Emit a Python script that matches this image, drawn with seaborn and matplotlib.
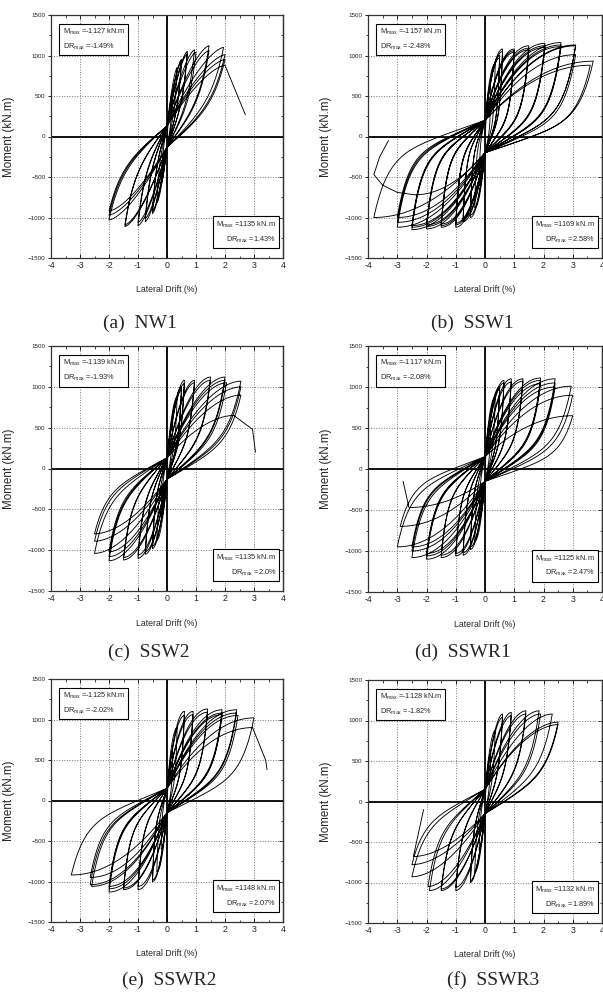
import numpy as np
import pandas as pd
import matplotlib
matplotlib.use("Agg")
import matplotlib.pyplot as plt
from matplotlib import font_manager as fm
from matplotlib.ticker import MultipleLocator
import seaborn as sns

# ---------------- data (peak drift % / peak moment kN.m) -------------
nw1_drift = [0.2, -0.2, 0.35, -0.35, 0.5, -0.5, 0.5, -0.5, 0.7, -0.75, 0.7, -0.75,
             0.95, -1.0, 1.0, -1.0, 1.45, -1.45, 1.45, -1.45, 1.95, -2.0, 2.0, -2.0, 2.0, -2.0, 2.0]
nw1_moment = [560, -580, 850, -820, 950, -950, 930, -920, 1050, -1050, 1020, -1010,
              1070, -1100, 1040, -1060, 1120, -1110, 1060, -1090, 1100, -1030, 1010, -970, 950, -920, 880]
nw1_tail_drift = [2.7]
nw1_tail_moment = [270]

ssw1_drift = [0.2, -0.2, 0.35, -0.35, 0.5, -0.5, 0.5, -0.5, 0.6, -0.75, 0.6, -0.75,
              1.0, -1.0, 1.0, -1.0, 1.0, -1.0, 1.5, -1.5, 1.5, -1.5, 1.5, -1.5,
              2.05, -2.0, 2.05, -2.0, 2.05, -2.0, 2.6, -2.5, 2.6, -2.5, 2.6, -2.5,
              3.1, -3.0, 3.1, -3.0, 3.1, -3.0, 3.7, -3.8, 3.6, -2.4]
ssw1_moment = [600, -600, 900, -880, 1000, -1000, 970, -970, 1080, -1050, 1050, -1020,
               1080, -1120, 1060, -1090, 1040, -1070, 1120, -1120, 1090, -1100, 1070, -1080,
               1150, -1140, 1120, -1110, 1100, -1090, 1160, -1150, 1130, -1120, 1110, -1100,
               1130, -1120, 1120, -1060, 1010, -1000, 930, -1000, 880, -720]
ssw1_tail_drift = [-3.0, -3.5, -3.8, -3.6, -3.3]
ssw1_tail_moment = [-690, -600, -470, -250, -50]

ssw2_drift = [0.2, -0.2, 0.35, -0.35, 0.5, -0.5, 0.5, -0.5, 0.6, -0.75, 0.6, -0.75,
              0.95, -1.0, 0.95, -1.0, 1.5, -1.5, 1.5, -1.5, 2.0, -2.0, 2.0, -2.0, 2.05, -2.0,
              2.55, -2.5, 2.55, -2.5, 2.55, -2.5, 2.3]
ssw2_moment = [600, -600, 880, -880, 1000, -980, 960, -950, 1080, -1050, 1040, -1020,
               1080, -1100, 1050, -1060, 1120, -1120, 1080, -1090, 1120, -1130, 1080, -1080, 1050, -1020,
               1070, -1040, 1000, -890, 900, -800, 650]
ssw2_tail_drift = [2.95, 3.05]
ssw2_tail_moment = [480, 200]

sswr1_drift = [0.2, -0.2, 0.35, -0.35, 0.5, -0.5, 0.5, -0.5, 0.65, -0.75, 0.65, -0.75,
               0.9, -1.0, 0.9, -1.0, 1.3, -1.5, 1.3, -1.5, 1.9, -2.0, 1.9, -2.0, 1.9, -2.0,
               2.4, -2.5, 2.4, -2.5, 2.4, -2.5, 2.95, -3.0, 3.0, -2.9, 3.0, -2.6]
sswr1_moment = [600, -600, 880, -880, 1000, -980, 970, -950, 1080, -1050, 1050, -1020,
                1100, -1060, 1060, -1030, 1100, -1080, 1070, -1050, 1110, -1100, 1080, -1060, 1040, -1030,
                1100, -1080, 1050, -1000, 1000, -950, 1010, -950, 900, -700, 650, -470]
sswr1_tail_drift = [-2.8]
sswr1_tail_moment = [-150]

sswr2_drift = [0.2, -0.2, 0.35, -0.35, 0.6, -0.5, 0.6, -0.5, 0.9, -1.0, 0.9, -1.0,
               1.4, -1.5, 1.4, -1.5, 1.9, -2.0, 1.9, -2.0, 1.9, -2.0,
               2.4, -2.6, 2.4, -2.65, 2.45, -2.65, 3.0, -3.3, 2.95]
sswr2_moment = [600, -600, 900, -880, 1100, -1000, 1050, -980, 1100, -1100, 1060, -1060,
                1130, -1100, 1090, -1080, 1120, -1130, 1080, -1090, 1060, -1060,
                1120, -1060, 1080, -1040, 1050, -950, 1020, -920, 900]
sswr2_tail_drift = [3.4, 3.45]
sswr2_tail_moment = [500, 380]

sswr3_drift = [0.2, -0.2, 0.35, -0.35, 0.6, -0.5, 0.6, -0.5, 0.9, -1.0, 0.9, -1.0,
               1.4, -1.5, 1.4, -1.5, 1.85, -1.9, 1.9, -1.95, 2.3, -2.5, 2.5, -2.5, 2.5, -2.45]
sswr3_moment = [600, -600, 880, -880, 1080, -1000, 1040, -980, 1100, -1100, 1060, -1060,
                1120, -1100, 1080, -1080, 1120, -1100, 1080, -1050, 1080, -930, 980, -780, 950, -680]
sswr3_tail_drift = [-2.1]
sswr3_tail_moment = [-100]

specimens = ["NW1", "SSW1", "SSW2", "SSWR1", "SSWR2", "SSWR3"]
captions = ["(a)  NW1", "(b)  SSW1", "(c)  SSW2", "(d)  SSWR1", "(e)  SSWR2", "(f)  SSWR3"]
neg_mmax = [-1127, -1157, -1139, -1117, -1125, -1128]
neg_drmax = ["-1.49", "-2.48", "-1.93", "-2.08", "-2.02", "-1.82"]
pos_mmax = [1135, 1169, 1135, 1125, 1148, 1132]
pos_drmax = ["1.43", "2.58", "2.0", "2.47", "2.07", "1.89"]
pinch_moment = [130, 200, 130, 150, 150, 150]

peak_drifts = [nw1_drift, ssw1_drift, ssw2_drift, sswr1_drift, sswr2_drift, sswr3_drift]
peak_moments = [nw1_moment, ssw1_moment, ssw2_moment, sswr1_moment, sswr2_moment, sswr3_moment]
tail_drifts = [nw1_tail_drift, ssw1_tail_drift, ssw2_tail_drift, sswr1_tail_drift, sswr2_tail_drift, sswr3_tail_drift]
tail_moments = [nw1_tail_moment, ssw1_tail_moment, ssw2_tail_moment, sswr1_tail_moment, sswr2_tail_moment, sswr3_tail_moment]

# loop shape styles (unloading share, unloading decay, reloading exponent)
shape_style = [(0.45, 0.2, 1.5), (0.6, 0.12, 2.0), (0.5, 0.15, 1.8),
               (0.55, 0.13, 2.0), (0.55, 0.13, 2.0), (0.5, 0.15, 1.8)]


def branch(x0, y0, x1, y1, p, a, tau, k, n=90):
    sgn = 1.0 if x1 > x0 else -1.0
    X0, Y0, X1, Y1 = sgn * x0, sgn * y0, sgn * x1, sgn * y1
    xs, ys = [], []
    sx, sy = X0, Y0
    if X0 < 0:
        t = np.linspace(0, 1, n)
        g1 = a * (1 - np.exp(-t / tau)) / (1 - np.exp(-1 / tau)) + (1 - a) * t
        xs.append(X0 * (1 - t))
        ys.append(Y0 + (p - Y0) * g1)
        sx, sy = 0.0, p
    s = np.linspace(0, 1, n)
    g2 = 1 - (1 - s) ** k
    xs.append(sx + (X1 - sx) * s)
    ys.append(sy + (Y1 - sy) * g2)
    return sgn * np.concatenate(xs), sgn * np.concatenate(ys)


def build_path(dr, mo, tdr, tmo, p, style):
    a, tau, k = style
    X, Y = [], []
    prev = (0.0, 0.0)
    for d, m in zip(dr, mo):
        if prev == (0.0, 0.0):
            s = np.linspace(0, 1, 90)
            bx, by = d * s, m * (1 - (1 - s) ** k)
        else:
            bx, by = branch(prev[0], prev[1], d, m, p, a, tau, k)
        X.append(bx)
        Y.append(by)
        prev = (d, m)
    X.append(np.array(tdr, float))
    Y.append(np.array(tmo, float))
    return np.concatenate(X), np.concatenate(Y)


# ---------------- style ----------------
sns.set_theme(style="ticks")
installed = {f.name for f in fm.fontManager.ttflist}
if "Liberation Sans Narrow" in installed:
    main_font = "Liberation Sans Narrow"
    f_scale = 1.0
else:
    main_font = "Liberation Sans"
    f_scale = 0.86
fam = [main_font, "Liberation Sans", "DejaVu Sans"]
plt.rcParams["font.family"] = fam
plt.rcParams["mathtext.fontset"] = "custom"
plt.rcParams["mathtext.rm"] = main_font
plt.rcParams["mathtext.it"] = main_font
plt.rcParams["axes.linewidth"] = 0.9

W, H = 603, 1000
fig = plt.figure(figsize=(W / 100, H / 100), dpi=100)

axes_px = [(51, 15, 283, 258), (368, 15, 602, 258), (51, 346, 283, 591),
           (368, 346, 602, 592), (51, 679, 283, 922), (368, 680, 602, 923)]
caption_px = [(140, 323), (472, 323), (149, 652), (463, 652), (169, 980), (493, 980)]

for i in range(6):
    l, t, r, b = axes_px[i]
    ax = fig.add_axes([l / W, 1 - b / H, (r - l) / W, (b - t) / H])
    x, y = build_path(peak_drifts[i], peak_moments[i], tail_drifts[i], tail_moments[i],
                      pinch_moment[i], shape_style[i])
    df = pd.DataFrame({"drift": x, "moment": y})
    sns.lineplot(data=df, x="drift", y="moment", sort=False, estimator=None,
                 color="black", lw=0.65, ax=ax)
    ax.set_xlim(-4, 4)
    ax.set_ylim(-1500, 1500)
    ax.xaxis.set_major_locator(MultipleLocator(1))
    ax.xaxis.set_minor_locator(MultipleLocator(0.5))
    ax.yaxis.set_major_locator(MultipleLocator(500))
    ax.yaxis.set_minor_locator(MultipleLocator(250))
    ax.grid(True, which="major", linestyle=":", color="#777777", lw=0.7)
    ax.axhline(0, color="black", lw=1.3, zorder=1)
    ax.axvline(0, color="black", lw=1.3, zorder=1)
    for sp in ax.spines.values():
        sp.set_visible(True)
        sp.set_color("#333333")
    ax.tick_params(axis="x", which="both", direction="in", top=True, bottom=True,
                   labelsize=6.3, pad=2.5, colors="#222222")
    ax.tick_params(axis="x", which="major", length=3, width=0.7)
    ax.tick_params(axis="x", which="minor", length=1.8, width=0.6)
    ax.tick_params(axis="y", which="both", direction="out", left=True, right=False,
                   labelsize=5.2 * f_scale, pad=1.5, colors="#222222")
    ax.tick_params(axis="y", which="major", length=2.5, width=0.7)
    ax.tick_params(axis="y", which="minor", length=1.5, width=0.6)
    sec = ax.secondary_yaxis("right")
    sec.yaxis.set_major_locator(MultipleLocator(500))
    sec.yaxis.set_minor_locator(MultipleLocator(250))
    sec.tick_params(which="both", direction="in", labelright=False)
    sec.tick_params(which="major", length=3, width=0.7)
    sec.tick_params(which="minor", length=1.8, width=0.6)
    sec.spines["right"].set_color("#333333")
    ax.set_xticklabels([f"{v:g}" for v in ax.get_xticks()])
    ax.set_xlabel("Lateral Drift (%)", fontsize=7.3 * f_scale)
    ax.xaxis.set_label_coords(0.5, -0.113)
    ax.set_ylabel("Moment (kN.m)", fontsize=8.4,
                  family=["Liberation Sans", "DejaVu Sans"])
    ax.yaxis.set_label_coords(-0.155, 0.5)

    box = dict(boxstyle="square,pad=0.45", fc="white", ec="black", lw=0.8)
    fs = 6.2 * f_scale
    ax.text(0.05, 0.95,
            f"M$_{{\\mathrm{{max}}}}$ =-{abs(neg_mmax[i])} kN.m\nDR$_{{\\mathrm{{max}}}}$ =-{neg_drmax[i].lstrip('-')}%",
            transform=ax.transAxes, ha="left", va="top", fontsize=fs, linespacing=1.65,
            bbox=box, zorder=5)
    ax.text(0.97, 0.055,
            f"M$_{{\\mathrm{{max}}}}$ ={pos_mmax[i]} kN.m\nDR$_{{\\mathrm{{max}}}}$ ={pos_drmax[i]}%",
            transform=ax.transAxes, ha="right", va="bottom", fontsize=fs, linespacing=1.65,
            bbox=box, zorder=5)

    cx, cy = caption_px[i]
    fig.text(cx / W, 1 - cy / H, captions[i], ha="center", va="center", fontsize=14,
             family=["Liberation Serif", "DejaVu Serif"])

fig.savefig("out.png", dpi=100)
